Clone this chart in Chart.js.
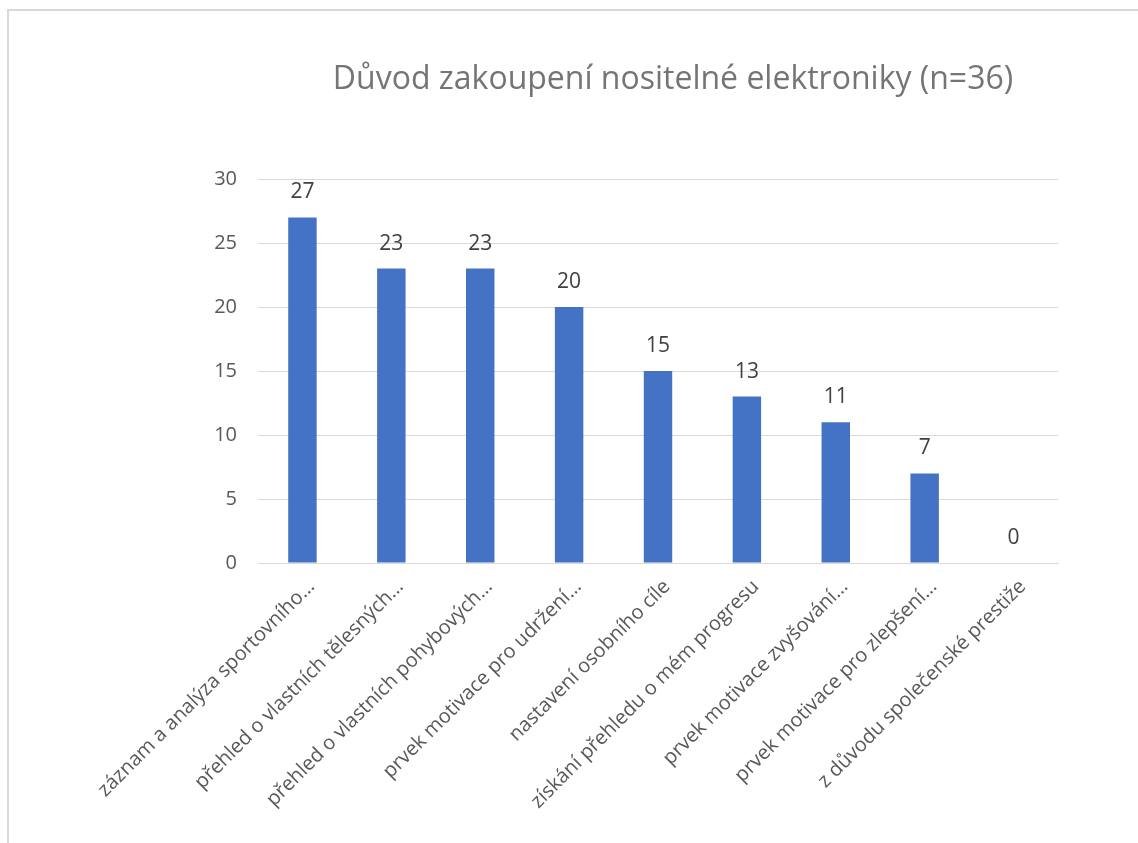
<!DOCTYPE html>
<html>
<head>
<meta charset="utf-8">
<script src="https://cdn.jsdelivr.net/npm/chart.js@4.4.0/dist/chart.umd.min.js"></script>
<style>
  html, body { margin: 0; padding: 0; background: #ffffff; overflow: hidden; }
  #frame { position: absolute; left: 7px; top: 9px; width: 1200px; height: 900px; border: 2px solid #d9d9d9; box-sizing: border-box; }
  #wrap { position: absolute; left: 0; top: 0; width: 1138px; height: 843px; }
</style>
</head>
<body>
<div id="frame"></div>
<div id="wrap"><canvas id="c" width="1138" height="843"></canvas></div>
<script>
const titleText = "Důvod zakoupení nositelné elektroniky (n=36)";
const categories = [
  "záznam a analýza sportovního…",
  "přehled o vlastních tělesných…",
  "přehled o vlastních pohybových…",
  "prvek motivace pro udržení…",
  "nastavení osobního cíle",
  "získání přehledu o mém progresu",
  "prvek motivace zvyšování…",
  "prvek motivace pro zlepšení…",
  "z důvodu společenské prestiže"
];
const counts = [27, 23, 23, 20, 15, 13, 11, 7, 0];
const yTicks = [0, 5, 10, 15, 20, 25, 30];

const FONT = "'Open Sans', sans-serif";

const titleAndLabels = {
  id: 'titleAndLabels',
  afterDatasetsDraw(chart) {
    const ctx = chart.ctx;
    const meta = chart.getDatasetMeta(0);
    ctx.save();
    ctx.font = "21px " + FONT;
    ctx.fillStyle = "#404040";
    ctx.textAlign = "center";
    ctx.textBaseline = "middle";
    meta.data.forEach((bar, i) => {
      ctx.fillText(String(counts[i]), bar.x, bar.y - 25);
    });
    // chart title
    ctx.font = "32px " + FONT;
    ctx.fillStyle = "#757575";
    ctx.fillText(titleText, 673, 80);
    ctx.restore();
  }
};

new Chart(document.getElementById('c'), {
  type: 'bar',
  data: {
    labels: categories,
    datasets: [{
      data: counts,
      backgroundColor: '#4472C4',
      borderWidth: 0,
      barPercentage: 0.64,
      categoryPercentage: 0.5
    }]
  },
  options: {
    responsive: false,
    animation: false,
    devicePixelRatio: 1,
    layout: { padding: { left: 198, right: 80, top: 179, bottom: 0 } },
    plugins: {
      legend: { display: false },
      tooltip: { enabled: false },
      title: { display: false }
    },
    scales: {
      x: {
        grid: { display: false, drawTicks: false },
        border: { display: true, color: '#d9d9d9', width: 1 },
        ticks: {
          color: '#595959',
          font: { family: FONT, size: 20 },
          minRotation: 45,
          maxRotation: 45,
          autoSkip: false,
          padding: 12,
          labelOffset: 9
        },
        afterFit(scale) { scale.height = 280; }
      },
      y: {
        min: 0,
        max: 30,
        afterBuildTicks(scale) { scale.ticks = yTicks.map(v => ({ value: v })); },
        grid: { color: '#d9d9d9', lineWidth: 1, drawTicks: false },
        border: { display: false },
        ticks: {
          color: '#595959',
          font: { family: FONT, size: 20 },
          padding: 21
        },
        afterFit(scale) { scale.width = 60; }
      }
    }
  },
  plugins: [titleAndLabels]
});
</script>
</body>
</html>
